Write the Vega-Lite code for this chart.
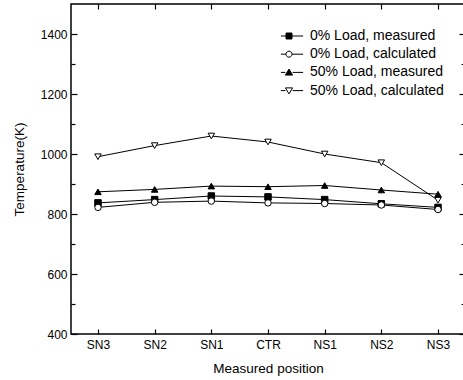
{
  "$schema": "https://vega.github.io/schema/vega-lite/v6.json",
  "width": 394,
  "height": 330,
  "autosize": {"type": "none"},
  "padding": {"left": 71, "top": 4, "right": 0, "bottom": 46},
  "background": "white",
  "config": {
    "font": "Liberation Sans",
    "view": {"stroke": "black", "strokeWidth": 1.5},
    "axis": {
      "domainColor": "black",
      "domainWidth": 1.3,
      "tickColor": "black",
      "tickWidth": 1.2,
      "labelColor": "black",
      "titleColor": "black",
      "labelFontSize": 12,
      "titleFontSize": 13.5,
      "titleFontWeight": "normal",
      "grid": false
    }
  },
  "data": {
    "values": [
      {"pos": "SN3", "series": "0% Load, measured", "temp": 837},
      {"pos": "SN2", "series": "0% Load, measured", "temp": 848},
      {"pos": "SN1", "series": "0% Load, measured", "temp": 860},
      {"pos": "CTR", "series": "0% Load, measured", "temp": 857},
      {"pos": "NS1", "series": "0% Load, measured", "temp": 848},
      {"pos": "NS2", "series": "0% Load, measured", "temp": 834},
      {"pos": "NS3", "series": "0% Load, measured", "temp": 822},
      {"pos": "SN3", "series": "0% Load, calculated", "temp": 822},
      {"pos": "SN2", "series": "0% Load, calculated", "temp": 839},
      {"pos": "SN1", "series": "0% Load, calculated", "temp": 843},
      {"pos": "CTR", "series": "0% Load, calculated", "temp": 837},
      {"pos": "NS1", "series": "0% Load, calculated", "temp": 835},
      {"pos": "NS2", "series": "0% Load, calculated", "temp": 830},
      {"pos": "NS3", "series": "0% Load, calculated", "temp": 815},
      {"pos": "SN3", "series": "50% Load, measured", "temp": 874},
      {"pos": "SN2", "series": "50% Load, measured", "temp": 882},
      {"pos": "SN1", "series": "50% Load, measured", "temp": 893},
      {"pos": "CTR", "series": "50% Load, measured", "temp": 891},
      {"pos": "NS1", "series": "50% Load, measured", "temp": 895},
      {"pos": "NS2", "series": "50% Load, measured", "temp": 880},
      {"pos": "NS3", "series": "50% Load, measured", "temp": 866},
      {"pos": "SN3", "series": "50% Load, calculated", "temp": 991},
      {"pos": "SN2", "series": "50% Load, calculated", "temp": 1028},
      {"pos": "SN1", "series": "50% Load, calculated", "temp": 1060},
      {"pos": "CTR", "series": "50% Load, calculated", "temp": 1040},
      {"pos": "NS1", "series": "50% Load, calculated", "temp": 1000},
      {"pos": "NS2", "series": "50% Load, calculated", "temp": 971},
      {"pos": "NS3", "series": "50% Load, calculated", "temp": 846}
    ]
  },
  "resolve": {
    "scale": {"shape": "independent", "fill": "independent", "stroke": "independent"},
    "axis": {"x": "independent", "y": "independent"}
  },
  "layer": [
    {
      "mark": {"type": "line", "color": "black", "strokeWidth": 1},
      "encoding": {
        "x": {
          "field": "pos", "type": "nominal",
          "sort": ["SN3", "SN2", "SN1", "CTR", "NS1", "NS2", "NS3"],
          "scale": {"type": "point", "padding": 0.476},
          "axis": {"title": "Measured position", "labelAngle": 0, "tickSize": -5, "labelPadding": 10, "titlePadding": 11, "domain": false}
        },
        "y": {
          "field": "temp", "type": "quantitative",
          "scale": {"domain": [400, 1500], "nice": false, "zero": false},
          "axis": {
            "title": "Temperature(K)",
            "values": [400, 500, 600, 700, 800, 900, 1000, 1100, 1200, 1300, 1400],
            "labelExpr": "datum.value % 200 == 0 ? datum.label : ''",
            "format": "d",
            "tickSize": {"condition": {"test": "datum.value % 200 == 0", "value": -6}, "value": -4},
            "labelPadding": 10,
            "titlePadding": 14,
            "domain": false
          }
        },
        "detail": {"field": "series"}
      }
    },
    {
      "mark": {"type": "point", "stroke": "black", "strokeWidth": 1, "opacity": 1, "size": 42},
      "encoding": {
        "x": {
          "field": "pos", "type": "nominal",
          "sort": ["SN3", "SN2", "SN1", "CTR", "NS1", "NS2", "NS3"],
          "scale": {"type": "point", "padding": 0.476},
          "axis": {"orient": "top", "title": null, "labels": false, "tickSize": -5, "domain": false}
        },
        "y": {
          "field": "temp", "type": "quantitative",
          "scale": {"domain": [400, 1500], "nice": false, "zero": false},
          "axis": {
            "orient": "right", "title": null, "labels": false, "domain": false,
            "values": [400, 500, 600, 700, 800, 900, 1000, 1100, 1200, 1300, 1400],
            "tickSize": {"condition": {"test": "datum.value % 200 == 0", "value": -6}, "value": -4}
          }
        },
        "shape": {
          "field": "series", "type": "nominal",
          "scale": {
            "domain": ["0% Load, measured", "0% Load, calculated", "50% Load, measured", "50% Load, calculated"],
            "range": ["square", "circle", "triangle-up", "triangle-down"]
          },
          "legend": null
        },
        "fill": {
          "field": "series", "type": "nominal",
          "scale": {
            "domain": ["0% Load, measured", "0% Load, calculated", "50% Load, measured", "50% Load, calculated"],
            "range": ["black", "white", "black", "white"]
          },
          "legend": null
        }
      }
    },
    {
      "transform": [{"filter": "false"}],
      "mark": {"type": "point", "strokeWidth": 1, "opacity": 1},
      "encoding": {
        "x": {
          "field": "pos", "type": "nominal",
          "sort": ["SN3", "SN2", "SN1", "CTR", "NS1", "NS2", "NS3"],
          "scale": {"type": "point", "padding": 0.476},
          "axis": null
        },
        "y": {
          "field": "temp", "type": "quantitative",
          "scale": {"domain": [400, 1500], "nice": false, "zero": false},
          "axis": null
        },
        "shape": {
          "field": "series", "type": "nominal",
          "scale": {
            "domain": ["0% Load, measured", "0% Load, calculated", "50% Load, measured", "50% Load, calculated"],
            "range": [
              "M-2.7,0H-1M1,0H4.7M-1,-1H1V1H-1Z",
              "M-2.7,0H-1M1,0H4.7M-1,0A1,1,0,1,1,1,0A1,1,0,1,1,-1,0Z",
              "M-2.7,0H-1.2M1.2,0H4.7M0,-1.1L1.2,0.9H-1.2Z",
              "M-2.7,0H-1.2M1.2,0H4.7M0,1.1L1.2,-0.9H-1.2Z"
            ]
          },
          "legend": {
            "title": null, "orient": "none", "legendX": 211, "legendY": 25,
            "symbolSize": 36, "symbolStrokeWidth": 1,
            "labelFontSize": 14, "labelColor": "black", "labelOffset": 14, "rowPadding": 4.2
          }
        },
        "fill": {
          "field": "series", "type": "nominal",
          "scale": {
            "domain": ["0% Load, measured", "0% Load, calculated", "50% Load, measured", "50% Load, calculated"],
            "range": ["black", "white", "black", "white"]
          },
          "legend": {
            "title": null, "orient": "none", "legendX": 211, "legendY": 25,
            "symbolSize": 36, "symbolStrokeWidth": 1,
            "labelFontSize": 14, "labelColor": "black", "labelOffset": 14, "rowPadding": 4.2
          }
        },
        "stroke": {
          "field": "series", "type": "nominal",
          "scale": {
            "domain": ["0% Load, measured", "0% Load, calculated", "50% Load, measured", "50% Load, calculated"],
            "range": ["black", "black", "black", "black"]
          },
          "legend": {
            "title": null, "orient": "none", "legendX": 211, "legendY": 25,
            "symbolSize": 36, "symbolStrokeWidth": 1,
            "labelFontSize": 14, "labelColor": "black", "labelOffset": 14, "rowPadding": 4.2
          }
        }
      }
    }
  ]
}
